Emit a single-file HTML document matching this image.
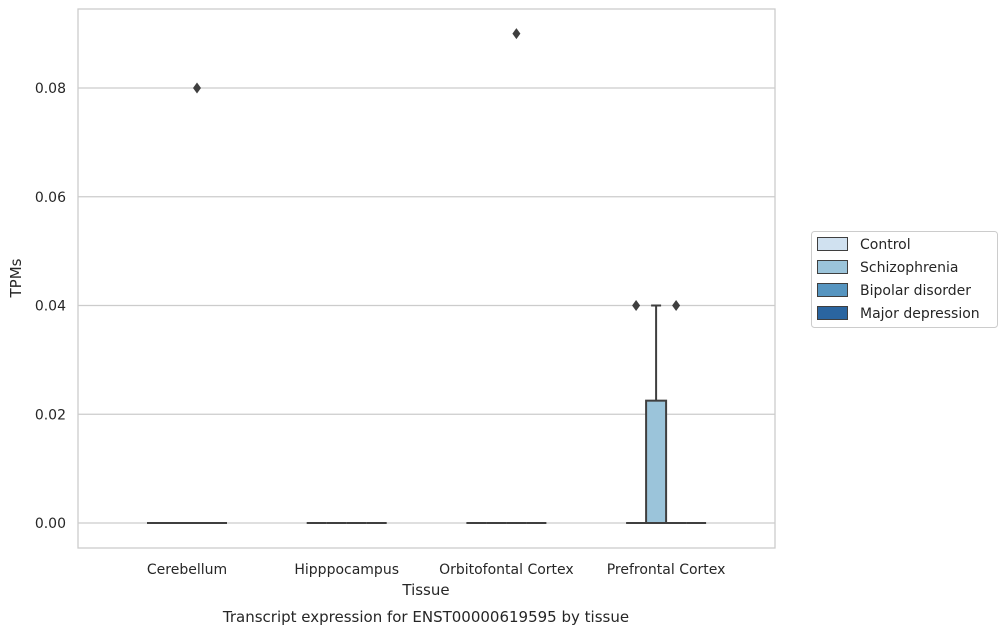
<!DOCTYPE html>
<html><head><meta charset="utf-8"><style>
body{margin:0;background:#fff;}
svg text{font-family:"DejaVu Sans","Liberation Sans",sans-serif;fill:#262626;}
</style></head><body>
<svg id="chart" width="1007" height="634">
<rect x="78" y="9" width="697" height="539" fill="#fff" stroke="#cccccc" stroke-width="1.3"/>
<g id="grid"></g>
<g id="boxes"></g>
<g id="xlabels"></g>
<text x="21" y="278" font-size="15" text-anchor="middle" transform="rotate(-90 21 278)">TPMs</text>
<text x="426" y="595" font-size="15" text-anchor="middle">Tissue</text>
<text x="426" y="622" font-size="15" text-anchor="middle">Transcript expression for ENST00000619595 by tissue</text>
<g>
<rect x="811.5" y="231.5" width="186" height="96" rx="3" fill="#fff" stroke="#cccccc"/>
<g id="legend"></g>
</g>
</svg>
<script>
const categories=["Cerebellum","Hipppocampus","Orbitofontal Cortex","Prefrontal Cortex"];
const hues=["Control","Schizophrenia","Bipolar disorder","Major depression"];
const colors=["#d0e1f0","#9bc4da","#5695c0","#2a65a0"];
const yTicks=[0,0.02,0.04,0.06,0.08];
// [q1,median,q3,whiskerLow,whiskerHigh] per category per hue
const boxStats=[
 [[0,0,0,0,0],[0,0,0,0,0],[0,0,0,0,0],[0,0,0,0,0]],
 [[0,0,0,0,0],[0,0,0,0,0],[0,0,0,0,0],[0,0,0,0,0]],
 [[0,0,0,0,0],[0,0,0,0,0],[0,0,0,0,0],[0,0,0,0,0]],
 [[0,0,0,0,0],[0,0,0.0225,0,0.04],[0,0,0,0,0],[0,0,0,0,0]]
];
// outliers: [categoryIndex, hueIndex, value]
const outliers=[[0,2,0.08],[2,2,0.09],[3,0,0.04],[3,2,0.04]];
const NS="http://www.w3.org/2000/svg";
const y=v=>523-v/0.02*108.75;
const xc=i=>187+159.7*i;
const hx=(i,h)=>xc(i)-40+h*20;
function mk(t,a,p){const e=document.createElementNS(NS,t);for(const k in a)e.setAttribute(k,a[k]);p.appendChild(e);return e;}
const grid=document.getElementById('grid');
yTicks.forEach(v=>{
 const l=mk('line',{x1:78,x2:775,y1:y(v),y2:y(v),stroke:'#cccccc','stroke-width':1.3},grid);
 
 
 const t=mk('text',{x:66,y:y(v)+5,'font-size':14,'text-anchor':'end'},grid);
 t.textContent=v.toFixed(2);
 
 
});
const xl=document.getElementById('xlabels');
categories.forEach((c,i)=>{
 const t=mk('text',{x:xc(i),y:574,'font-size':14,'text-anchor':'middle'},xl);
 t.textContent=c;
 
 
});
const bx=document.getElementById('boxes');
boxStats.forEach((cat,i)=>cat.forEach((s,h)=>{
 const g=mk('g',{},bx);
 
 
 const x0=hx(i,h),cx=x0+10;
 if(s[4]>s[2]){mk('line',{x1:cx,x2:cx,y1:y(s[2]),y2:y(s[4]),stroke:'#3f3f3f','stroke-width':2},g);
  mk('line',{x1:cx-5,x2:cx+5,y1:y(s[4]),y2:y(s[4]),stroke:'#3f3f3f','stroke-width':2},g);}
 mk('rect',{x:x0,y:y(s[2]),width:20,height:Math.max(0,y(s[0])-y(s[2])),fill:colors[h],stroke:'#3f3f3f','stroke-width':2},g);
 mk('line',{x1:x0,x2:x0+20,y1:y(s[1]),y2:y(s[1]),stroke:'#3f3f3f','stroke-width':2},g);
}));
outliers.forEach(o=>{
 const cx=hx(o[0],o[1])+10,cy=y(o[2]);
 const p=mk('path',{d:`M${cx},${cy-5.5} L${cx+4},${cy} L${cx},${cy+5.5} L${cx-4},${cy} Z`,fill:'#3f3f3f'},bx);
 
 
});
const lg=document.getElementById('legend');
hues.forEach((h,k)=>{
 const yy=244+k*23;
 const r=mk('rect',{x:817.5,y:yy-6.5,width:30,height:13,fill:colors[k],stroke:'#3f3f3f','stroke-width':1},lg);
 
 
 const t=mk('text',{x:860,y:yy+5,'font-size':14},lg);
 t.textContent=h;
 
 
});
</script>
</body></html>
